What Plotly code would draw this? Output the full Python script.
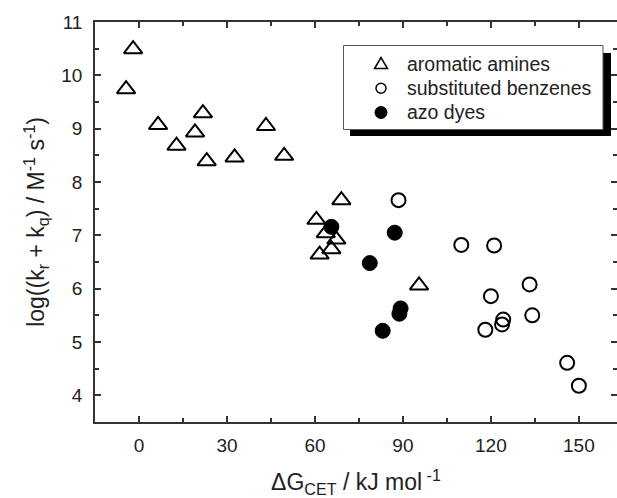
import plotly.graph_objects as go

# Data
amines_x = [-2.0, -4.4, 6.5, 12.8, 19.1, 21.8, 23.1, 32.6, 43.3, 49.5, 69.0, 60.5, 63.7, 67.3, 65.6, 61.6, 95.5]
amines_y = [10.49, 9.74, 9.07, 8.68, 8.93, 9.29, 8.39, 8.46, 9.05, 8.49, 7.66, 7.29, 7.04, 6.92, 6.74, 6.64, 6.06]

benz_x = [88.5, 109.9, 121.1, 133.2, 120.0, 118.1, 123.8, 124.2, 134.1, 146.0, 150.0]
benz_y = [7.66, 6.82, 6.81, 6.08, 5.86, 5.23, 5.33, 5.42, 5.50, 4.61, 4.18]

azo_x = [65.6, 87.2, 78.7, 89.2, 88.8, 83.1]
azo_y = [7.16, 7.05, 6.48, 5.63, 5.53, 5.21]

series_names = ["aromatic amines", "substituted benzenes", "azo dyes"]
x_ticks = [0, 30, 60, 90, 120, 150]
y_ticks = [4, 5, 6, 7, 8, 9, 10, 11]

FONT = "Liberation Sans, Arial, sans-serif"
AX = "#333333"

W, H = 617, 498
ML, MR, MT, MB = 95, 0, 22, 76
PW, PH = W - ML - MR, H - MT - MB


def px(x):
    return (x - ML) / PW


def py(y):
    return (H - MB - y) / PH


fig = go.Figure()
fig.add_trace(go.Scatter(
    x=amines_x, y=amines_y, mode="markers", name=series_names[0], showlegend=False,
    marker=dict(symbol="triangle-up", size=16, color="rgba(255,255,255,0)",
                line=dict(color="black", width=2)),
))
fig.add_trace(go.Scatter(
    x=benz_x, y=benz_y, mode="markers", name=series_names[1], showlegend=False,
    marker=dict(symbol="circle", size=14, color="rgba(255,255,255,0)",
                line=dict(color="black", width=2)),
))
fig.add_trace(go.Scatter(
    x=azo_x, y=azo_y, mode="markers", name=series_names[2], showlegend=False,
    marker=dict(symbol="circle", size=15, color="black",
                line=dict(color="black", width=1)),
))
# invisible trace to carry the right-hand ticks
fig.add_trace(go.Scatter(x=[None], y=[None], yaxis="y2", showlegend=False, hoverinfo="skip"))

# ---- legend box (shadow + framed box) ----
fig.add_shape(type="rect", xref="paper", yref="paper",
              x0=px(350), x1=px(611), y0=py(136), y1=py(53),
              fillcolor="black", line=dict(width=0), layer="above")
fig.add_shape(type="rect", xref="paper", yref="paper",
              x0=px(343.5), x1=px(603), y0=py(129.5), y1=py(45.5),
              fillcolor="white", line=dict(color="#555555", width=1), layer="above")

rows = [63.5, 88.3, 112.5]
sym_x = 381
# triangle symbol
tx, ty = sym_x, rows[0]
fig.add_shape(type="path", xref="paper", yref="paper",
              path=f"M {px(tx-6.5)} {py(ty+5)} L {px(tx+6.5)} {py(ty+5)} L {px(tx)} {py(ty-6)} Z",
              line=dict(color="black", width=1.5), fillcolor="white", layer="above")
# open circle symbol
fig.add_shape(type="circle", xref="paper", yref="paper",
              x0=px(sym_x-5), x1=px(sym_x+5), y0=py(rows[1]+5), y1=py(rows[1]-5),
              line=dict(color="black", width=1.5), fillcolor="white", layer="above")
# filled circle symbol
fig.add_shape(type="circle", xref="paper", yref="paper",
              x0=px(sym_x-6), x1=px(sym_x+6), y0=py(rows[2]+6), y1=py(rows[2]-6),
              line=dict(color="black", width=1), fillcolor="black", layer="above")

for name, ry in zip(series_names, rows):
    fig.add_annotation(text=name, xref="paper", yref="paper", x=px(405), y=py(ry),
                       xanchor="left", yanchor="middle", showarrow=False,
                       font=dict(family=FONT, size=19.5, color="#222222"))

fig.update_layout(
    width=W, height=H,
    margin=dict(l=ML, r=MR, t=MT, b=MB, autoexpand=False),
    paper_bgcolor="white", plot_bgcolor="white",
    font=dict(family=FONT, size=19, color="#222222"),
    showlegend=False,
    xaxis=dict(
        range=[-15, 163], tickvals=x_ticks, ticks="inside", ticklen=6, tickwidth=1.5,
        tickcolor=AX, showline=True, linecolor=AX, linewidth=1.5, mirror="ticks",
        showgrid=False, zeroline=False, automargin=False,
        minor=dict(dtick=15, tick0=0, ticks="inside", ticklen=4, tickwidth=1.5, tickcolor=AX, showgrid=False),
        tickfont=dict(size=19), ticklabelstandoff=5,
        title=dict(text="ΔG<sub>CET</sub> / kJ mol<sup> -1</sup>", font=dict(size=23), standoff=28),
    ),
    yaxis=dict(
        range=[3.5, 11], tickvals=y_ticks, ticks="inside", ticklen=6, tickwidth=1.5,
        tickcolor=AX, showline=True, linecolor=AX, linewidth=1.5, mirror=False,
        showgrid=False, zeroline=False, automargin=False,
        minor=dict(dtick=0.5, tick0=0, ticks="inside", ticklen=4, tickwidth=1.5, tickcolor=AX, showgrid=False),
        tickfont=dict(size=19), ticklabelstandoff=7,
        title=dict(text="log((k<sub>r</sub> + k<sub>q</sub>) / M<sup>-1</sup> s<sup>-1</sup>)",
                   font=dict(size=23), standoff=10),
    ),
    yaxis2=dict(
        overlaying="y", side="right", range=[3.5, 11], tickvals=y_ticks,
        ticks="inside", ticklen=6, tickwidth=1.5, tickcolor=AX,
        showticklabels=False, showline=False, showgrid=False, zeroline=False,
        automargin=False,
        minor=dict(dtick=0.5, tick0=0, ticks="inside", ticklen=4, tickwidth=1.5, tickcolor=AX),
    ),
)

fig.write_html("out.html")
